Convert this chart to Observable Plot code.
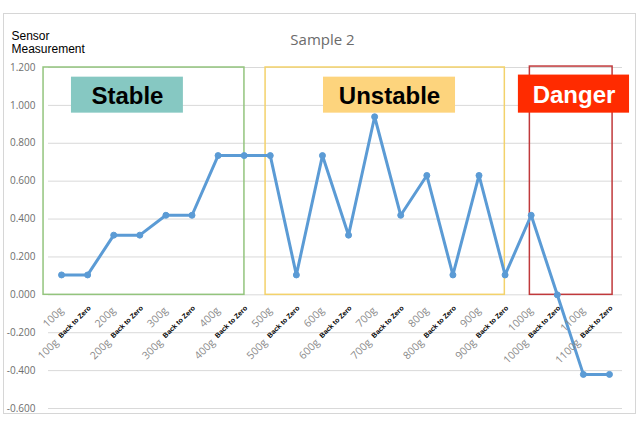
<!DOCTYPE html>
<html>
<head>
<meta charset="utf-8">
<script src="https://cdn.jsdelivr.net/npm/d3@7"></script>
<script src="https://cdn.jsdelivr.net/npm/@observablehq/plot@0.6"></script>
<style>
  body { margin: 0; background: #fff; }
  #wrap { position: relative; width: 640px; height: 434px; }
  #border { position: absolute; left: 3px; top: 13px; width: 633px; height: 401px; border: 1px solid #d6d6d6; pointer-events: none; box-sizing: border-box; }
</style>
</head>
<body>
<div id="wrap"><div id="border"></div></div>
<script>
const categories = [
  "100g", "100g Back to Zero", "200g", "200g Back to Zero", "300g", "300g Back to Zero",
  "400g", "400g Back to Zero", "500g", "500g Back to Zero", "600g", "600g Back to Zero",
  "700g", "700g Back to Zero", "800g", "800g Back to Zero", "900g", "900g Back to Zero",
  "1000g", "1000g Back to Zero", "1100g", "1100g Back to Zero"
];
const values = [
  0.105, 0.105, 0.315, 0.315, 0.42, 0.42,
  0.735, 0.735, 0.735, 0.105, 0.735, 0.315,
  0.94, 0.42, 0.63, 0.105, 0.63, 0.105,
  0.42, 0.0, -0.42, -0.42
];
const yTicks = [-0.6, -0.4, -0.2, 0, 0.2, 0.4, 0.6, 0.8, 1.0, 1.2];
const zoneNames = ["Stable", "Unstable", "Danger"];
const zoneStart = [-0.69, 7.82, 17.95];
const zoneEnd = [7.01, 16.99, 21.12];
const zoneTop = [1.2, 1.2, 1.205];
const labelStart = [0.38, 10.04, 17.51];
const labelEnd = [4.67, 15.1, 21.77];
const labelTop = [1.149, 1.149, 1.16];
const labelBottom = [0.959, 0.959, 0.959];

const zoneStroke = ["#93c47d", "#f3d26b", "#c0393b"];
const labelFill = ["#86c8c2", "#fdd47d", "#ff2b00"];
const labelInk = ["#000000", "#000000", "#ffffff"];

const rows = categories.map((c, i) => ({
  i,
  weight: c.split(" ")[0],
  back: c.includes("Back to Zero"),
  value: values[i]
}));
const zones = zoneNames.map((name, k) => ({
  name, x1: zoneStart[k], x2: zoneEnd[k], y1: 0, y2: zoneTop[k],
  lx1: labelStart[k], lx2: labelEnd[k], ly1: labelBottom[k], ly2: labelTop[k],
  lx: (labelStart[k] + labelEnd[k]) / 2, ly: (labelBottom[k] + labelTop[k]) / 2
}));

const blue = "#5b9bd5";
const sans = "'Open Sans', 'Liberation Sans', sans-serif";
const bold = "'Liberation Sans', Arial, sans-serif";

const chart = Plot.plot({
  width: 640,
  height: 434,
  marginTop: 67,
  marginBottom: 26,
  marginLeft: 48,
  marginRight: 18,
  style: { fontFamily: sans, background: "transparent" },
  x: { type: "linear", domain: [-0.5, 21.5], axis: null },
  y: { domain: [-0.6, 1.2], axis: null },
  marks: [
    Plot.gridY(yTicks, { stroke: "#d9d9d9", strokeOpacity: 1, strokeWidth: 1 }),
    Plot.axisY(yTicks, {
      tickSize: 0, tickPadding: 13, tickFormat: d => d.toFixed(3),
      fill: "#6e6e6e", fontSize: 10, fontFamily: sans
    }),
    ...zones.map((z, k) => Plot.rect([z], {
      x1: "x1", x2: "x2", y1: "y1", y2: "y2",
      fill: "none", stroke: zoneStroke[k], strokeWidth: 1.5
    })),
    Plot.line(rows, { x: "i", y: "value", stroke: blue, strokeWidth: 3, strokeLinejoin: "round" }),
    Plot.dot(rows, { x: "i", y: "value", r: 3, fill: blue, stroke: blue, strokeWidth: 1 }),
    ...zones.map((z, k) => Plot.rect([z], {
      x1: "lx1", x2: "lx2", y1: "ly1", y2: "ly2", fill: labelFill[k]
    })),
    ...zones.map((z, k) => Plot.text([z], {
      x: "lx", y: "ly", text: "name", fill: labelInk[k],
      fontSize: 24, fontWeight: "bold", fontFamily: bold, dy: 1
    })),
    // x tick labels: weight part (gray)
    Plot.text(rows.filter(d => !d.back), {
      x: "i", y: () => 0, text: "weight", rotate: -45, textAnchor: "end",
      fill: "#8a8a8a", fontSize: 10.5, fontFamily: sans, dx: 0, dy: 14
    }),
    Plot.text(rows.filter(d => d.back), {
      x: "i", y: () => 0, text: "weight", rotate: -45, textAnchor: "end",
      fill: "#8a8a8a", fontSize: 10.5, fontFamily: sans, dx: -31, dy: 46
    }),
    Plot.text(rows.filter(d => d.back), {
      x: "i", y: () => 0, text: () => "Back to Zero", rotate: -45, textAnchor: "end",
      fill: "#000", fontSize: 7, fontWeight: "bold", fontFamily: bold, dx: 2, dy: 12
    }),
    // titles
    Plot.text(["Sample 2"], {
      frameAnchor: "top", text: d => d, dx: -13, dy: -33,
      fill: "#6b6b6b", fontSize: 15, fontFamily: sans
    }),
    Plot.text(["Sensor\nMeasurement"], {
      frameAnchor: "top-left", text: d => d, textAnchor: "start", lineAnchor: "top",
      dx: -37, dy: -36, fill: "#000", fontSize: 12, lineHeight: 1.05, fontFamily: bold
    })
  ]
});
document.getElementById("wrap").prepend(chart);
</script>
</body>
</html>
